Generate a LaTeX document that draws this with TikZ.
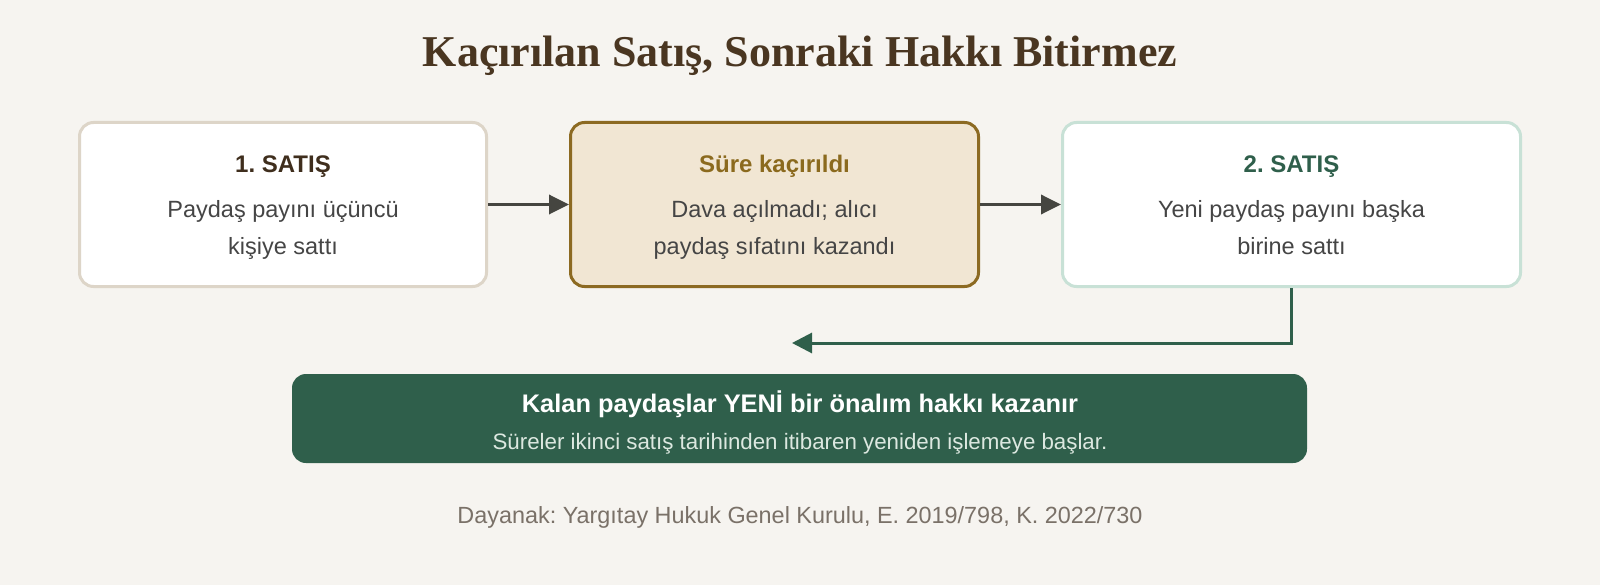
\documentclass[tikz,border=0pt]{standalone}
\usepackage{fontspec}
\setmainfont{Liberation Sans}
\newfontfamily\titlefont{Liberation Serif}
\usepackage{xcolor}
\usepackage{tikz}
\usetikzlibrary{arrows.meta}
\frenchspacing

\definecolor{paper}{HTML}{F6F4F0}
\definecolor{titlebrown}{HTML}{4A3621}
\definecolor{ink}{HTML}{454545}
\definecolor{firstedge}{HTML}{DDD5C8}
\definecolor{firsthead}{HTML}{3F2E1D}
\definecolor{lapsefill}{HTML}{F1E6D3}
\definecolor{lapseedge}{HTML}{8C6A22}
\definecolor{lapsehead}{HTML}{8B6A1E}
\definecolor{secondedge}{HTML}{C8E1D6}
\definecolor{deepgreen}{HTML}{2F5F4B}
\definecolor{arrowgray}{HTML}{454540}
\definecolor{resulttext}{HTML}{DCE8E0}
\definecolor{footgray}{HTML}{7A7168}

\begin{document}
\begin{tikzpicture}[x=1pt,y=-1pt,
    box/.style={draw, rounded corners=14pt, line width=3pt, inner sep=0pt, minimum height=164pt},
    head/.style={anchor=base, font=\bfseries\fontsize{24}{28}\selectfont},
    body/.style={anchor=base, text=ink, font=\fontsize{23.5}{28}\selectfont},
    flow/.style={->, line width=3.5pt, draw=arrowgray},
    >={Triangle[length=20pt,width=19pt]}]
\useasboundingbox (0,0) rectangle (1600,585);
\fill[paper] (0,0) rectangle (1600,585);

% title
\node[anchor=base, text=titlebrown, font=\titlefont\bfseries\fontsize{44}{50}\selectfont] (title) at (800,66.7) {Kaçırılan Satış, Sonraki Hakkı Bitirmez};

% the three steps
\node[box, fill=white, draw=firstedge, minimum width=407pt] (sale1) at (283,204.5) {};
\node[box, fill=lapsefill, draw=lapseedge, minimum width=408pt] (lapse) at (774.5,204.5) {};
\node[box, fill=white, draw=secondedge, minimum width=458pt] (sale2) at (1291.5,204.5) {};

\node[head, text=firsthead] (sale1head) at (283,172.3) {1. SATIŞ};
\node[body] (sale1a) at (283,217.3) {Paydaş payını üçüncü};
\node[body] (sale1b) at (283,254.5) {kişiye sattı};

\node[head, text=lapsehead] (lapsehead) at (774.5,172.3) {Süre kaçırıldı};
\node[body] (lapsea) at (774.5,217.3) {Dava açılmadı; alıcı};
\node[body] (lapseb) at (774.5,254.5) {paydaş sıfatını kazandı};

\node[head, text=deepgreen] (sale2head) at (1291.5,172.3) {2. SATIŞ};
\node[body] (sale2a) at (1291.5,217.3) {Yeni paydaş payını başka};
\node[body] (sale2b) at (1291.5,254.5) {birine sattı};

\draw[flow] (sale1) -- (lapse);
\draw[flow] (lapse) -- (sale2);

% back to the result
\coordinate (ret) at (792,343);
\draw[->, line width=3pt, draw=deepgreen, >={Triangle[length=20pt,width=20pt]}] (sale2.south) |- (ret);

\node[fill=deepgreen, rounded corners=14pt, inner sep=0pt, minimum width=1015pt, minimum height=89pt] (result) at (799.5,418.5) {};
\node[anchor=base, text=white, font=\bfseries\fontsize{25.4}{30}\selectfont] (resulthead) at (800,412.7) {Kalan paydaşlar YENİ bir önalım hakkı kazanır};
\node[anchor=base, text=resulttext, font=\fontsize{22.3}{27}\selectfont] (resultnote) at (800,449.3) {Süreler ikinci satış tarihinden itibaren yeniden işlemeye başlar.};

% source
\node[anchor=base, text=footgray, font=\fontsize{23.4}{28}\selectfont] (source) at (800,523.3) {Dayanak: Yargıtay Hukuk Genel Kurulu, E. 2019/798, K. 2022/730};
\end{tikzpicture}
\end{document}
